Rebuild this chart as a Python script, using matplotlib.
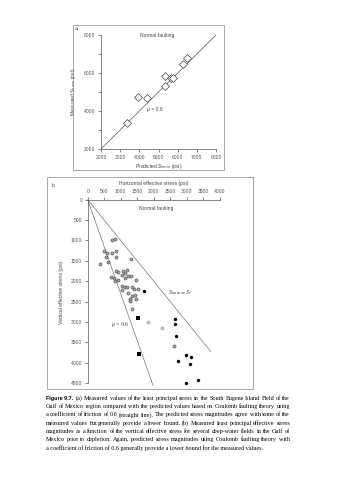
import matplotlib
matplotlib.use('Agg')
import matplotlib.pyplot as plt
from matplotlib.patches import Rectangle

plt.rcParams['font.family'] = ['Liberation Sans', 'DejaVu Sans']

# panel a: predicted vs measured Shmin (psi)
pred_a = [3340, 3910, 4400, 5320, 5360, 5640, 5770, 6260, 6490]
meas_a = [3380, 4720, 4670, 5330, 5840, 5740, 5740, 6470, 6770]
ticks_a = [2000, 3000, 4000, 5000, 6000, 7000, 8000]
yticks_a = [2000, 4000, 6000, 8000]

# panel b: effective stresses (psi)
grey_sh = [726, 827, 504, 585, 726, 867, 544, 867, 625, 383, 1312, 867, 928, 1069,
           1191, 1130, 1029, 1231, 1312, 706, 807, 908, 1130, 1473, 827, 1049, 1130,
           1191, 1352, 1413, 1514, 1029, 1231, 1332, 1433, 1271, 1292, 1453, 1332, 2605]
grey_sv = [989, 965, 1251, 1317, 1317, 1251, 1415, 1398, 1529, 1578, 1464, 1742, 1775, 1758,
           1726, 1807, 1840, 1873, 1873, 1889, 1922, 1971, 1922, 1971, 2004, 2118, 2135,
           2151, 2135, 2184, 2184, 2216, 2282, 2364, 2331, 2429, 2478, 2446, 2675, 3591]
light_sh = [1817, 2261]
light_sv = [3002, 3149]
black_sh = [1716, 2645, 2645, 2685, 2968, 3130, 2746, 3089, 2968, 3332]
black_sv = [2249, 2920, 3051, 3337, 3812, 3869, 3951, 4033, 4491, 4425]
sq_sh = [1534, 1554]
sq_sv = [2904, 3787]
ticks_bx = [0, 500, 1000, 1500, 2000, 2500, 3000, 3500, 4000]
ticks_by = [0, 500, 1000, 1500, 2000, 2500, 3000, 3500, 4000, 4500]
equal_line = [0, 3730]
mu_line_sh = [0, 1980]
mu_line_sv = [0, 4560]

caption = [
    "(a) Measured values of the least principal stress in the South Eugene Island Field of the",
    "Gulf of Mexico region compared with the predicted values based on Coulomb faulting theory using",
    "a coefficient of friction of 0.6 (straight line). The predicted stress magnitudes agree with some of the",
    "measured values but generally provide a lower bound. (b) Measured least principal effective stress",
    "magnitudes as a function of the vertical effective stress for several deep-water fields in the Gulf of",
    "Mexico prior to depletion. Again, predicted stress magnitudes using Coulomb faulting theory with",
    "a coefficient of friction of 0.6 generally provide a lower bound for the measured values.",
]

W, H = 338, 480
fig = plt.figure(figsize=(W / 100, H / 100), dpi=100)


def fx(px):
    return px / W


def fy(py):
    return 1 - py / H


fs = 3.6
frame_kw = dict(fill=False, edgecolor='#999999', linewidth=0.6, transform=fig.transFigure)

# ---- panel a ----
fig.patches.append(Rectangle((fx(73), fy(170)), fx(224) - fx(73), fy(25) - fy(170), **frame_kw))
ax = fig.add_axes([fx(101), fy(149), fx(216) - fx(101), fy(35) - fy(149)])
ax.plot([2000, 8000], [2000, 8000], color='#555555', lw=0.5)
ax.scatter(pred_a, meas_a, marker='D', s=16, facecolor='white', edgecolor='#444444', lw=0.5, zorder=3)
ax.set_xlim(2000, 8000)
ax.set_ylim(2000, 8000)
ax.set_xticks(ticks_a)
ax.set_yticks(yticks_a)
ax.set_yticks([3000, 5000, 7000], minor=True)
for s in ['top', 'right']:
    ax.spines[s].set_visible(False)
for s in ['left', 'bottom']:
    ax.spines[s].set_linewidth(0.5)
    ax.spines[s].set_color('#555555')
ax.tick_params(which='both', length=2, width=0.5, labelsize=fs, pad=2, colors='#555555')
ax.set_xlabel(r'Predicted $S_{\rm hmin}$ (psi)', fontsize=fs, labelpad=2, color='#444444')
ax.set_ylabel(r'Measured $S_{\rm hmin}$ (psi)', fontsize=fs, labelpad=4, color='#444444')
ax.text(4920, 7950, 'Normal faulting', fontsize=fs, ha='center', va='center', color='#444444')
ax.text(4820, 4100, 'μ = 0.6', fontsize=fs, ha='center', va='center', color='#444444')
fig.text(fx(75), fy(29), 'a.', fontsize=fs, ha='left', va='center', color='#444444')

# ---- panel b ----
fig.patches.append(Rectangle((fx(46.7), fy(389)), fx(253) - fx(46.7), fy(177) - fy(389), **frame_kw))
bx = fig.add_axes([fx(87.7), fy(385.5), fx(219.7) - fx(87.7), fy(199.7) - fy(385.5)])
bx.plot(equal_line, equal_line, color='#777777', lw=0.5)
bx.plot(mu_line_sh, mu_line_sv, color='#777777', lw=0.5, clip_on=False)
bx.scatter(grey_sh, grey_sv, s=5, marker='o', facecolor='#aaaaaa', edgecolor='#444444', lw=0.4, zorder=3)
bx.scatter(light_sh, light_sv, s=5, marker='o', facecolor='#cccccc', edgecolor='#999999', lw=0.4, zorder=3)
bx.scatter(black_sh, black_sv, s=6, marker='o', color='black', lw=0, zorder=3)
bx.scatter(sq_sh, sq_sv, s=6, marker='s', color='black', lw=0, zorder=3)
bx.set_xlim(0, 4000)
bx.set_ylim(4560, 0)
bx.xaxis.tick_top()
bx.xaxis.set_label_position('top')
bx.set_xticks(ticks_bx)
bx.set_yticks(ticks_by)
for s in ['bottom', 'right']:
    bx.spines[s].set_visible(False)
for s in ['left', 'top']:
    bx.spines[s].set_linewidth(0.5)
    bx.spines[s].set_color('#555555')
bx.spines['left'].set_bounds(0, 4500)
bx.tick_params(length=2, width=0.5, labelsize=fs, pad=2, colors='#555555')
bx.set_xlabel('Horizontal effective stress (psi)', fontsize=fs, labelpad=3, color='#444444')
bx.set_ylabel('Vertical effective stress (psi)', fontsize=fs, labelpad=5, color='#444444')
bx.text(2090, 210, 'Normal faulting', fontsize=fs, ha='center', va='center', color='#444444')
bx.text(2800, 2283, r'$S_{\rm hmin} = S_v$', fontsize=4.2, ha='center', va='center',
        color='#444444', math_fontfamily='stix')
bx.text(980, 3060, r'$\mu$ = 0.6', fontsize=4.2, ha='center', va='center',
        color='#444444', family='Liberation Serif', math_fontfamily='stix')
fig.text(fx(52), fy(185), 'b.', fontsize=fs, ha='left', va='center', color='#444444')

# ---- caption (justified between x=46 and x=290 px) ----
cap_fs = 4.45
fig.text(fx(46), fy(398.3), 'Figure 9.7.', fontsize=3.9, weight='bold', ha='left', va='center')
renderer = fig.canvas.get_renderer()
right = 290
for i, line in enumerate(caption):
    x0 = 76 if i == 0 else 46
    y = fy(398.3 + i * 8.25)
    if i == len(caption) - 1:
        fig.text(fx(x0), y, line, fontsize=cap_fs, family='Liberation Serif', ha='left', va='center')
        continue
    words = line.split()
    texts = [fig.text(0, y, w, fontsize=cap_fs, family='Liberation Serif', ha='left', va='center')
             for w in words]
    widths = [t.get_window_extent(renderer).width for t in texts]
    gap = max((right - x0 - sum(widths)) / (len(words) - 1), 0.8)
    x = x0
    for t, w in zip(texts, widths):
        t.set_x(fx(x))
        x += w + gap

fig.savefig('out.png', dpi=100)
